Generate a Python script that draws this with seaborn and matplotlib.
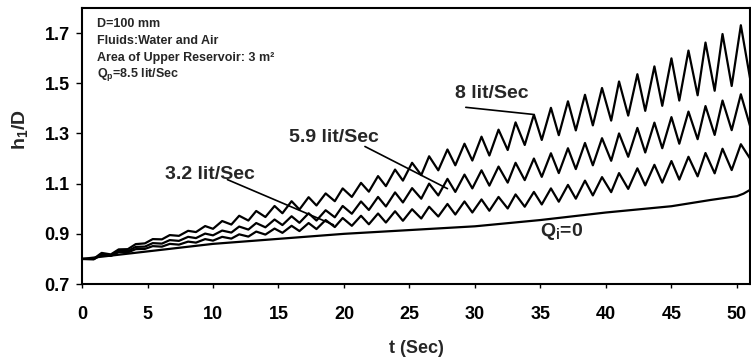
import pandas as pd
import matplotlib
matplotlib.use("Agg")
import matplotlib.pyplot as plt
import seaborn as sns

sns.set_theme(style="ticks")
plt.rcParams['font.family'] = ['Liberation Sans', 'DejaVu Sans']
plt.rcParams['font.weight'] = 'bold'
plt.rcParams['mathtext.fontset'] = 'custom'
plt.rcParams['mathtext.rm'] = 'Liberation Sans:bold'
plt.rcParams['mathtext.it'] = 'Liberation Sans:bold'
plt.rcParams['mathtext.bf'] = 'Liberation Sans:bold'
plt.rcParams['mathtext.default'] = 'rm'

# time of start, then alternating trough / peak of the oscillation, then end (Sec)
t = [0.0, 0.9, 1.5, 2.2, 2.8, 3.5, 4.1, 4.8, 5.4, 6.1, 6.7, 7.4, 8.1, 8.7, 9.4, 10.0,
     10.7, 11.4, 12.0, 12.7, 13.3, 14.0, 14.7, 15.3, 16.0, 16.6, 17.3, 17.9, 18.6, 19.3,
     19.9, 20.6, 21.3, 21.9, 22.6, 23.2, 23.9, 24.5, 25.2, 25.9, 26.5, 27.2, 27.9, 28.5,
     29.2, 29.8, 30.5, 31.1, 31.8, 32.5, 33.1, 33.8, 34.5, 35.1, 35.8, 36.4, 37.1, 37.7,
     38.4, 39.0, 39.7, 40.4, 41.0, 41.7, 42.4, 43.0, 43.7, 44.3, 45.0, 45.6, 46.3, 47.0,
     47.6, 48.3, 48.9, 49.6, 50.3, 51.0]

# h1/D, Qi = 8 lit/Sec
h_8 = [0.800, 0.801, 0.824, 0.818, 0.838, 0.839, 0.859, 0.862, 0.879, 0.878, 0.895, 0.892,
       0.912, 0.907, 0.931, 0.920, 0.951, 0.937, 0.972, 0.953, 0.991, 0.967, 1.011, 0.982,
       1.030, 0.997, 1.046, 1.013, 1.061, 1.030, 1.081, 1.047, 1.103, 1.068, 1.130, 1.090,
       1.156, 1.112, 1.183, 1.134, 1.209, 1.153, 1.236, 1.173, 1.259, 1.192, 1.287, 1.212,
       1.315, 1.234, 1.344, 1.254, 1.375, 1.274, 1.402, 1.293, 1.428, 1.312, 1.454, 1.332,
       1.481, 1.351, 1.507, 1.371, 1.536, 1.390, 1.567, 1.410, 1.599, 1.431, 1.630, 1.452,
       1.662, 1.470, 1.696, 1.489, 1.731, 1.520]

# h1/D, Qi = 5.9 lit/Sec
h_59 = [0.800, 0.799, 0.820, 0.815, 0.833, 0.831, 0.848, 0.849, 0.863, 0.861, 0.875, 0.872,
        0.888, 0.883, 0.901, 0.894, 0.913, 0.905, 0.929, 0.917, 0.943, 0.926, 0.957, 0.935,
        0.970, 0.944, 0.982, 0.953, 0.994, 0.966, 1.011, 0.980, 1.029, 0.995, 1.047, 1.009,
        1.065, 1.025, 1.082, 1.040, 1.100, 1.053, 1.119, 1.067, 1.136, 1.081, 1.153, 1.092,
        1.168, 1.104, 1.183, 1.114, 1.200, 1.127, 1.221, 1.142, 1.241, 1.158, 1.262, 1.173,
        1.281, 1.191, 1.300, 1.207, 1.322, 1.224, 1.343, 1.241, 1.365, 1.259, 1.387, 1.277,
        1.409, 1.294, 1.431, 1.313, 1.456, 1.330]

# h1/D, Qi = 3.2 lit/Sec
h_32 = [0.800, 0.799, 0.816, 0.812, 0.827, 0.826, 0.839, 0.840, 0.851, 0.849, 0.860, 0.857,
        0.869, 0.865, 0.879, 0.873, 0.888, 0.881, 0.898, 0.889, 0.909, 0.897, 0.921, 0.904,
        0.932, 0.911, 0.943, 0.919, 0.955, 0.927, 0.963, 0.932, 0.972, 0.938, 0.981, 0.945,
        0.990, 0.952, 0.998, 0.961, 1.008, 0.969, 1.019, 0.977, 1.029, 0.985, 1.037, 0.992,
        1.047, 1.001, 1.057, 1.008, 1.067, 1.017, 1.081, 1.028, 1.095, 1.040, 1.112, 1.053,
        1.126, 1.066, 1.142, 1.079, 1.161, 1.093, 1.175, 1.104, 1.190, 1.116, 1.207, 1.129,
        1.222, 1.141, 1.239, 1.154, 1.257, 1.200]

# Qi = 0
t_0 = [0, 5, 10, 15, 20, 25, 30, 35, 40, 45, 48, 50, 50.5, 51]
h_0 = [0.80, 0.83, 0.86, 0.88, 0.90, 0.915, 0.93, 0.955, 0.985, 1.01, 1.035, 1.05, 1.06, 1.075]

x_ticks = [0, 5, 10, 15, 20, 25, 30, 35, 40, 45, 50]
y_ticks = [0.7, 0.9, 1.1, 1.3, 1.5, 1.7]

df = pd.concat([
    pd.DataFrame({'t': t, 'h': h_8, 'Qi': '8'}),
    pd.DataFrame({'t': t, 'h': h_59, 'Qi': '5.9'}),
    pd.DataFrame({'t': t, 'h': h_32, 'Qi': '3.2'}),
    pd.DataFrame({'t': t_0, 'h': h_0, 'Qi': '0'}),
])

fig = plt.figure(figsize=(7.51, 3.6), dpi=100)
ax = fig.add_axes([0.1092, 0.211, 0.8895, 0.767])

sns.lineplot(data=df, x='t', y='h', hue='Qi', units='Qi', estimator=None,
             palette=['black'] * 4, linewidth=1.6, legend=False, ax=ax)

ax.set_xlim(0, 51)
ax.set_ylim(0.7, 1.8)
ax.set_xticks(x_ticks)
ax.set_yticks(y_ticks)
ax.tick_params(axis='both', labelsize=13, colors='black', direction='out')
ax.tick_params(axis='y', length=4, width=1, pad=5)
ax.tick_params(axis='x', length=3, width=1, pad=13)
for lab in ax.get_xticklabels() + ax.get_yticklabels():
    lab.set_fontweight('bold')
for s in ax.spines.values():
    s.set_color('black')
    s.set_linewidth(1.5)

ax.set_xlabel('t (Sec)', fontsize=13, fontweight='bold', labelpad=12)
ax.set_ylabel('')
fig.text(0.027, 0.64, 'h$_1$/D', rotation=90, fontsize=14, fontweight='bold',
         ha='center', va='center')

info = ['D=100 mm', 'Fluids:Water and Air', 'Area of Upper Reservoir: 3 m\u00b2',
        'Q$_p$=8.5 lit/Sec']
for i, line in enumerate(info):
    ax.text(1.15, 1.736 - i * 0.067, line, fontsize=9, fontweight='bold', va='center')

line_kw = dict(arrowstyle='-', color='black', lw=1.2, shrinkA=0, shrinkB=0)
ax.annotate('', xy=(34.4, 1.376), xytext=(29.3, 1.404), arrowprops=line_kw)
ax.text(31.3, 1.46, '8 lit/Sec', fontsize=14, fontweight='bold', ha='center', va='center')
ax.annotate('', xy=(27.9, 1.08), xytext=(21.6, 1.248), arrowprops=line_kw)
ax.text(19.2, 1.284, '5.9 lit/Sec', fontsize=14, fontweight='bold', ha='center', va='center')
ax.annotate('', xy=(19.2, 0.936), xytext=(11.1, 1.116), arrowprops=line_kw)
ax.text(9.8, 1.136, '3.2 lit/Sec', fontsize=14, fontweight='bold', ha='center', va='center')
ax.text(36.6, 0.908, 'Q$_i$=0', fontsize=14, fontweight='bold', ha='center', va='center')

fig.savefig('out.png', dpi=100)
